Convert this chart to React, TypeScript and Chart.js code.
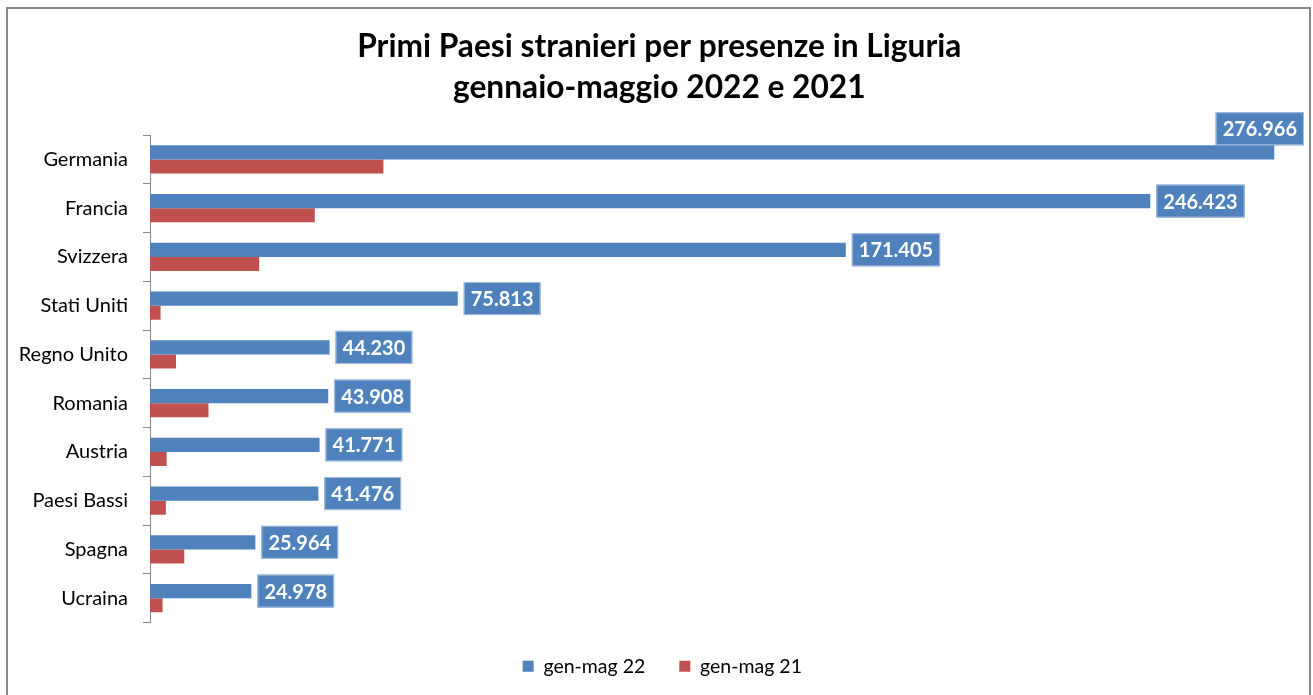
import React, { useEffect, useRef } from "react";
import { Chart, registerables } from "chart.js";

Chart.register(...registerables);

const categories = [
  "Germania",
  "Francia",
  "Svizzera",
  "Stati Uniti",
  "Regno Unito",
  "Romania",
  "Austria",
  "Paesi Bassi",
  "Spagna",
  "Ucraina",
];
const genMag22 = [276966, 246423, 171405, 75813, 44230, 43908, 41771, 41476, 25964, 24978];
const genMag21 = [57500, 40600, 26900, 2600, 6400, 14400, 4100, 3900, 8450, 3100];
const seriesNames = ["gen-mag 22", "gen-mag 21"];
const titleLines = ["Primi Paesi stranieri per presenze in Liguria", "gennaio-maggio 2022 e 2021"];
const xMax = 280000;

const BLUE = "#4F81BD";
const RED = "#C0504D";
const FONT = "Lato, 'Open Sans', sans-serif";

function fmt(v: number): string {
  return String(v).replace(/\B(?=(\d{3})+(?!\d))/g, ".");
}

const labelPlugin = {
  id: "barValueLabels",
  afterLayout(chart: any) {
    // centre title and legend like the original (offset to the right of the canvas centre)
    if (chart.titleBlock) chart.titleBlock.left += 24;
    if (chart.legend) chart.legend.left += 30;
  },
  afterDatasetsDraw(chart: any) {
    const ctx = chart.ctx as CanvasRenderingContext2D;
    const meta = chart.getDatasetMeta(0);
    const W = chart.width;
    ctx.save();
    ctx.font = `bold 20px ${FONT}`;
    meta.data.forEach((bar: any, i: number) => {
      const text = fmt(genMag22[i]);
      const tw = ctx.measureText(text).width;
      const bw = tw + 14;
      const bh = 33;
      let bx = bar.x + 6;
      let by = bar.y - bh / 2;
      if (bx + bw > W - 5) {
        bx = W - 5 - bw;
        by = bar.y - bar.height / 2 - bh;
      }
      ctx.fillStyle = BLUE;
      ctx.fillRect(bx, by, bw, bh);
      ctx.strokeStyle = "#A7BFDE";
      ctx.lineWidth = 1;
      ctx.strokeRect(bx + 0.5, by + 0.5, bw - 1, bh - 1);
      ctx.fillStyle = "#FFFFFF";
      ctx.textAlign = "center";
      ctx.textBaseline = "middle";
      ctx.fillText(text, bx + bw / 2, by + bh / 2 + 1);
    });
    ctx.restore();
  },
};

export default function App() {
  const ref = useRef<HTMLCanvasElement | null>(null);

  useEffect(() => {
    if (!ref.current) return;
    const chart = new Chart(ref.current, {
      type: "bar",
      data: {
        labels: categories,
        datasets: [
          {
            label: seriesNames[0],
            data: genMag22,
            backgroundColor: BLUE,
            borderWidth: 0,
            categoryPercentage: 0.578,
            barPercentage: 1,
          },
          {
            label: seriesNames[1],
            data: genMag21,
            backgroundColor: RED,
            borderWidth: 0,
            categoryPercentage: 0.578,
            barPercentage: 1,
          },
        ],
      },
      options: {
        indexAxis: "y",
        responsive: false,
        animation: false,
        devicePixelRatio: 1,
        layout: { padding: { left: 0, right: 22.4, top: 0, bottom: 19 } },
        scales: {
          x: { display: false, min: 0, max: xMax },
          y: {
            afterFit: (s: any) => {
              s.width = 142;
            },
            ticks: {
              font: { family: FONT, size: 20 },
              color: "#000000",
              padding: 15,
            },
            grid: {
              display: true,
              drawOnChartArea: false,
              drawTicks: true,
              tickLength: 7,
              color: "#868686",
              offset: true,
            },
            border: { display: true, color: "#868686", width: 1 },
          },
        },
        plugins: {
          title: {
            display: true,
            text: titleLines,
            color: "#000000",
            font: { family: FONT, size: 31.7, weight: "bold", lineHeight: 41 / 31.7 },
            padding: { top: 17.5, bottom: 26.5 },
          },
          legend: {
            display: true,
            position: "bottom",
            labels: {
              font: { family: FONT, size: 19.5 },
              color: "#000000",
              boxWidth: 11,
              boxHeight: 11,
              padding: 34,
            },
          },
          tooltip: { enabled: false },
        },
      },
      plugins: [labelPlugin],
    });
    return () => chart.destroy();
  }, []);

  return (
    <div
      style={{
        position: "absolute",
        left: 6,
        top: 7,
        width: 1305,
        height: 700,
        border: "2px solid #888888",
        boxSizing: "border-box",
        background: "#ffffff",
      }}
    >
      <canvas ref={ref} width={1301} height={696} style={{ display: "block" }} />
    </div>
  );
}
